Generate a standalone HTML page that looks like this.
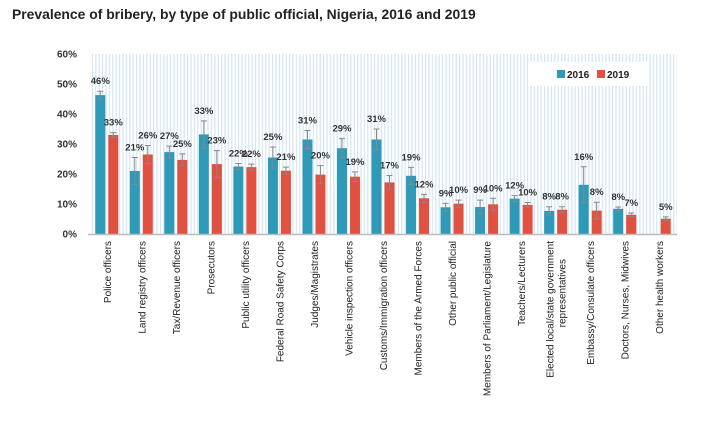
<!DOCTYPE html>
<html><head><meta charset="utf-8"><style>
body{margin:0;background:#fff;width:720px;height:429px;overflow:hidden;font-family:"Liberation Sans",sans-serif}
</style></head><body>
<svg id="c" width="720" height="429" xmlns="http://www.w3.org/2000/svg" font-family="Liberation Sans, sans-serif">
<defs><pattern id="stripes" width="3.4" height="10" patternUnits="userSpaceOnUse"><rect x="0" y="0" width="1.2" height="10" fill="#d3e6f1"/></pattern></defs>
<text x="12" y="19" font-size="13.9" font-weight="bold" fill="#222">Prevalence of bribery, by type of public official, Nigeria, 2016 and 2019</text>
<rect x="90" y="54" width="587" height="180" fill="url(#stripes)"/>
<g id="yaxis"></g><g id="bars"></g><g id="xlabels"></g>
<line x1="88" y1="234.5" x2="677" y2="234.5" stroke="#bbb" stroke-width="1.5"/>
<rect x="528" y="62" width="120" height="24" fill="#fff"/>
<rect x="557" y="70" width="8" height="8" fill="#2e9ab8"/>
<text x="567" y="78" font-size="10" font-weight="bold" fill="#222">2016</text>
<rect x="597" y="70" width="8" height="8" fill="#e05141"/>
<text x="607" y="78" font-size="10" font-weight="bold" fill="#222">2019</text>
</svg>
<script>
const categories=["Police officers","Land registry officers","Tax/Revenue officers","Prosecutors","Public utility officers","Federal Road Safety Corps","Judges/Magistrates","Vehicle inspection officers","Customs/Immigration officers","Members of the Armed Forces","Other public official","Members of Parliament/Legislature","Teachers/Lecturers","Elected local/state government|representatives","Embassy/Consulate officers","Doctors, Nurses, Midwives","Other health workers"];
const values2016=[46.3,21,27.3,33.2,22.5,25.5,31.5,28.6,31.5,19.4,8.9,9.0,11.8,7.7,16.4,8.4,null];
const values2019=[33.0,26.5,24.7,23.3,22.3,21.1,19.8,19.1,17.2,11.9,10.1,9.9,9.7,8.1,7.8,6.4,5.1];
const err2016=[1.3,4.5,2,4.5,1,3.5,3,3.2,3.5,2.8,1.3,2.3,1,1.4,6,0.6,null];
const err2019=[0.8,3,2,4.5,1,1.2,3,1.6,2.3,1.3,1.2,2,0.8,1,2.8,0.6,0.6];
const labels2016=["46%","21%","27%","33%","22%","25%","31%","29%","31%","19%","9%","9%","12%","8%","16%","8%",""];
const labels2019=["33%","26%","25%","23%","22%","21%","20%","19%","17%","12%","10%","10%","10%","8%","8%","7%","5%"];
const yTicks=[0,10,20,30,40,50,60];
const NS="http://www.w3.org/2000/svg";
const x0=90,x1=677,yBase=234,yTop=54,yMax=60;
const y=v=>yBase-(v/yMax)*(yBase-yTop);
const gw=(x1-x0)/categories.length;
const cx=i=>x0+gw*(i+0.5);
function mk(t,a,p){const e=document.createElementNS(NS,t);for(const k in a)e.setAttribute(k,a[k]);p.appendChild(e);return e;}
const ya=document.getElementById('yaxis');
yTicks.forEach(t=>{const e=mk('text',{x:77,y:y(t)+3.5,'font-size':10,'font-weight':'bold','text-anchor':'end',fill:'#333'},ya);e.textContent=t+'%';

});
const bg=document.getElementById('bars');
function bar(i,v,er,lab,off,col,yr){
 if(v==null)return;
 const bx=cx(i)+off;
 const r=mk('rect',{x:bx,y:y(v),width:10,height:yBase-y(v),fill:col},bg);
 
 
 const m=bx+5;
 const eb=mk('path',{d:`M${m},${y(v+er)}V${y(v-er)}M${m-3},${y(v+er)}H${m+3}M${m-3},${y(v-er)}H${m+3}`,stroke:'#888','stroke-width':1,fill:'none'},bg);
 
 
 const t=mk('text',{x:m,y:y(v+er)-7,'font-size':9.5,'font-weight':'bold','text-anchor':'middle',fill:'#333'},bg);t.textContent=lab;
 
 
}
categories.forEach((c,i)=>{
 bar(i,values2016[i],err2016[i],labels2016[i],-12,'#2e9ab8','2016');
 bar(i,values2019[i],err2019[i],labels2019[i],1,'#e05141','2019');
 const lines=c.split('|');
 const t=mk('text',{transform:`translate(${cx(i)},241) rotate(-90)`,'font-size':10,'text-anchor':'end',fill:'#222'},document.getElementById('xlabels'));
 
 
 lines.forEach((l,k)=>{const s=mk('tspan',{x:lines.length>1?(k==0?0:-18):0,y:3.5+(k-(lines.length-1)/2)*12},t);s.textContent=l;});
});
</script>
</body></html>
